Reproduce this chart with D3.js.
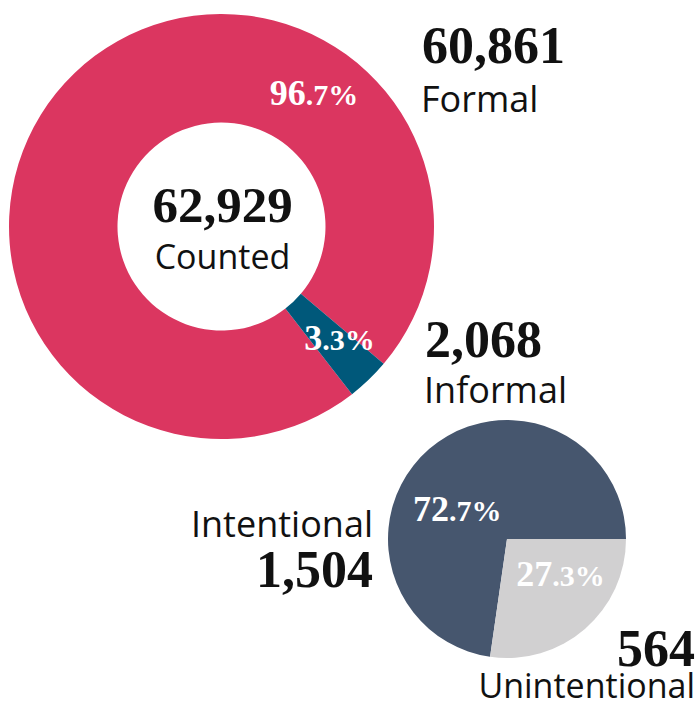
<!DOCTYPE html>
<html>
<head>
<meta charset="utf-8">
<style>
  body { margin: 0; background: #fff; }
  .num { font-family: "Liberation Serif", serif; font-weight: bold; fill: #111; }
  .lbl { font-family: "Open Sans", sans-serif; font-weight: 400; fill: #111; }
  .pct { font-family: "Liberation Serif", serif; font-weight: bold; fill: #fff; }
</style>
</head>
<body>
<script src="https://d3js.org/d3.v7.min.js"></script>
<script>
// data
var donutLabels = ["Formal", "Informal"];
var donutValues = [60861, 2068];
var totalLabel = "Counted";
var pieLabels = ["Intentional", "Unintentional"];
var pieValues = [1504, 564];

var width = 700, height = 706;
var donutColors = ["#db3660", "#00587a"];
var pieColors = ["#46566e", "#d1d0d1"];
var fmt = d3.format(",");
var pctFmt = d3.format(".1%");
var rad = function(deg) { return deg * Math.PI / 180; };

var svg = d3.select("body").append("svg")
    .attr("width", width)
    .attr("height", height);

// big donut
var donutTotal = d3.sum(donutValues);
var donut = { cx: 221.5, cy: 226.5, r0: 104, r1: 212.5 };
var donutPie = d3.pie().sort(null)
    .startAngle(rad(142.1))
    .endAngle(rad(142.1) + 2 * Math.PI);
var donutArc = d3.arc().innerRadius(donut.r0).outerRadius(donut.r1);

var g1 = svg.append("g").attr("transform", "translate(" + donut.cx + "," + donut.cy + ")");
var dArcs = donutPie(donutValues);
g1.selectAll("path").data(dArcs).enter().append("path")
    .attr("d", donutArc)
    .attr("fill", function(d, i) { return donutColors[i]; });

// percent label places (angle in degrees, radius)
var donutPctPos = [[36, 157.5], [135, 167]];

function pctLabel(g, value, total, pos) {
  var s = pctFmt(value / total);
  var dot = s.indexOf(".");
  var a = rad(pos[0]);
  var t = g.append("text").attr("class", "pct")
      .attr("x", Math.sin(a) * pos[1])
      .attr("y", -Math.cos(a) * pos[1])
      .attr("dy", "0.35em")
      .attr("text-anchor", "middle");
  t.append("tspan").style("font-size", "36px").text(s.slice(0, dot));
  t.append("tspan").style("font-size", "30px").text(s.slice(dot));
}

donutValues.forEach(function(v, i) {
  pctLabel(g1, v, donutTotal, donutPctPos[i]);
});

g1.append("text").attr("class", "num")
    .attr("text-anchor", "middle").attr("x", 1).attr("y", -5)
    .style("font-size", "51px")
    .text(fmt(donutTotal));
g1.append("text").attr("class", "lbl")
    .attr("text-anchor", "middle").attr("x", 1).attr("y", 42)
    .style("font-size", "34px")
    .text(totalLabel);

// side labels for donut
var donutSide = [{ x: 422, y: 63, y2: 112 }, { x: 425, y: 357, y2: 403 }];
donutValues.forEach(function(v, i) {
  svg.append("text").attr("class", "num")
      .attr("x", donutSide[i].x).attr("y", donutSide[i].y)
      .style("font-size", "52px")
      .text(fmt(v));
  svg.append("text").attr("class", "lbl")
      .attr("x", donutSide[i].x - 1).attr("y", donutSide[i].y2)
      .style("font-size", "36px")
      .text(donutLabels[i]);
});

// small pie for informal breakdown
var pieTotal = d3.sum(pieValues);
var pc = { cx: 507, cy: 539, r: 119 };
var start = Math.PI / 2 + 2 * Math.PI * pieValues[1] / pieTotal;
var smallPie = d3.pie().sort(null).startAngle(start).endAngle(start + 2 * Math.PI);
var pieArc = d3.arc().innerRadius(0).outerRadius(pc.r);

var g2 = svg.append("g").attr("transform", "translate(" + pc.cx + "," + pc.cy + ")");
g2.selectAll("path").data(smallPie(pieValues)).enter().append("path")
    .attr("d", pieArc)
    .attr("fill", function(d, i) { return pieColors[i]; });

var piePctPos = [[295, 55], [128, 68]];
pieValues.forEach(function(v, i) {
  pctLabel(g2, v, pieTotal, piePctPos[i]);
});

// intentional: label above number, right aligned
svg.append("text").attr("class", "lbl")
    .attr("text-anchor", "end").attr("x", 373).attr("y", 537)
    .style("font-size", "36px")
    .text(pieLabels[0]);
svg.append("text").attr("class", "num")
    .attr("text-anchor", "end").attr("x", 373).attr("y", 587)
    .style("font-size", "52px")
    .text(fmt(pieValues[0]));

// unintentional: number above label
svg.append("text").attr("class", "num")
    .attr("text-anchor", "end").attr("x", 695).attr("y", 666)
    .style("font-size", "52px")
    .text(fmt(pieValues[1]));
svg.append("text").attr("class", "lbl")
    .attr("text-anchor", "end").attr("x", 695).attr("y", 698)
    .style("font-size", "34px")
    .text(pieLabels[1]);
</script>
</body>
</html>
